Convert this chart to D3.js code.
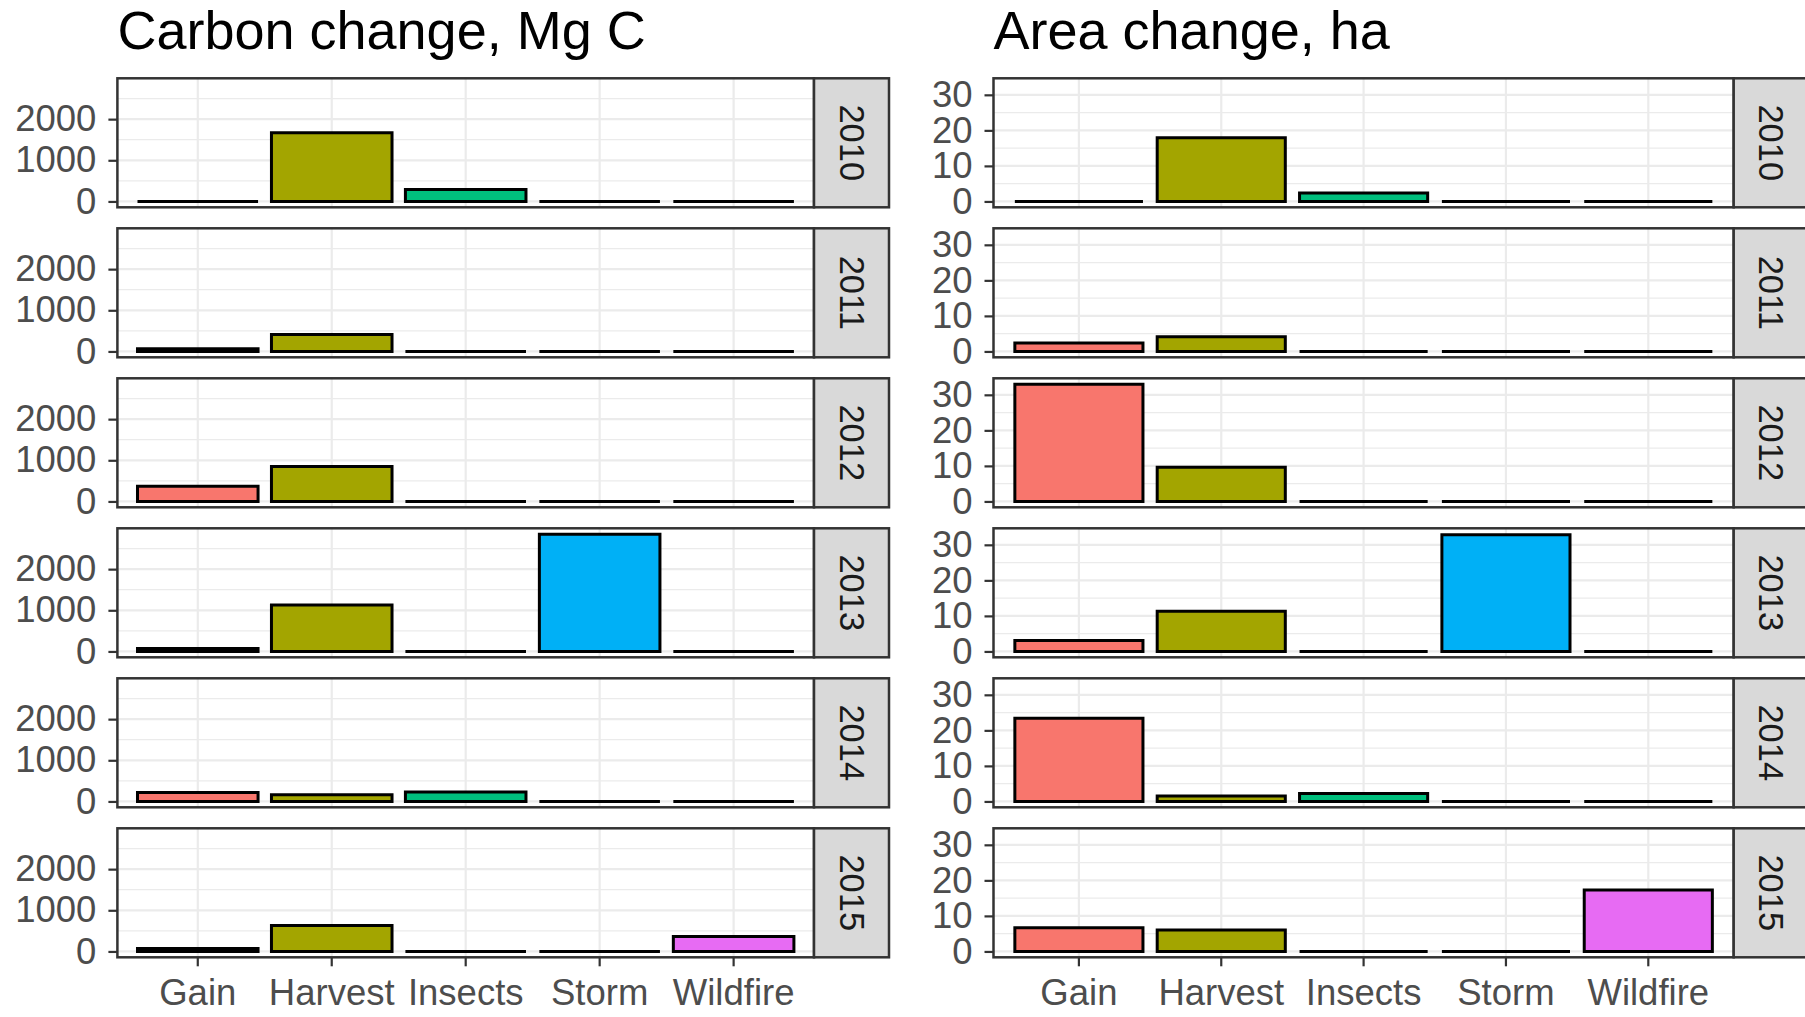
<!DOCTYPE html>
<html>
<head>
<meta charset="utf-8">
<script src="https://cdn.jsdelivr.net/npm/d3@7"></script>
<style>
  html, body { margin: 0; padding: 0; background: #ffffff; }
  svg { display: block; }
  text { font-family: "Liberation Sans", Arial, sans-serif; }
</style>
</head>
<body>
<svg id="chart" width="1805" height="1017"></svg>
<script>
// ---------------- data ----------------
const years = ["2010", "2011", "2012", "2013", "2014", "2015"];
const categories = ["Gain", "Harvest", "Insects", "Storm", "Wildfire"];
const categoryColors = ["#F8766D", "#A3A500", "#00BF7D", "#00B0F6", "#E76BF3"];

// Carbon change, Mg C (one value per year)
const carbonGain     = [0, 65, 370, 70, 215, 70];
const carbonHarvest  = [1670, 410, 850, 1130, 160, 630];
const carbonInsects  = [290, 0, 0, 0, 230, 0];
const carbonStorm    = [0, 0, 0, 2850, 0, 0];
const carbonWildfire = [0, 0, 0, 0, 0, 360];

// Area change, ha (one value per year)
const areaGain     = [0, 2.4, 33.0, 3.1, 23.4, 6.7];
const areaHarvest  = [17.9, 4.1, 9.6, 11.3, 1.5, 6.0];
const areaInsects  = [2.4, 0, 0, 0, 2.2, 0];
const areaStorm    = [0, 0, 0, 32.8, 0, 0];
const areaWildfire = [0, 0, 0, 0, 0, 17.3];

const carbonTicks = [0, 1000, 2000];
const carbonMinor = [500, 1500, 2500];
const areaTicks = [0, 10, 20, 30];
const areaMinor = [5, 15, 25];

const carbonTitle = "Carbon change, Mg C";
const areaTitle = "Area change, ha";

// ---------------- layout ----------------
const svg = d3.select("#chart");
const panelTop0 = 78.3;
const panelStep = 150;
const panelH = 129;
const stripW = 75;
const axisFont = 36.5;

function drawPlot(cfg) {
  const series = cfg.series;
  const maxV = d3.max(series.flat());
  const g = svg.append("g");

  const x = d3.scaleBand()
    .domain(categories)
    .range([cfg.left, cfg.right])
    .paddingInner(0.1)
    .paddingOuter(0.15);

  const color = d3.scaleOrdinal().domain(categories).range(categoryColors);

  // title
  g.append("text")
    .attr("x", cfg.left)
    .attr("y", 49)
    .attr("font-size", 54)
    .attr("fill", "#000")
    .text(cfg.title);

  years.forEach((yr, i) => {
    const top = panelTop0 + i * panelStep;
    const bottom = top + panelH;
    const y = d3.scaleLinear()
      .domain([-0.05 * maxV, 1.05 * maxV])
      .range([bottom, top]);

    const pg = g.append("g");

    pg.append("rect")
      .attr("x", cfg.left).attr("y", top)
      .attr("width", cfg.right - cfg.left).attr("height", panelH)
      .attr("fill", "#fff");

    // minor grid
    pg.selectAll(".minor").data(cfg.minor).enter().append("line")
      .attr("x1", cfg.left).attr("x2", cfg.right)
      .attr("y1", d => y(d)).attr("y2", d => y(d))
      .attr("stroke", "#EBEBEB").attr("stroke-width", 1.2);

    // major grid
    pg.selectAll(".majory").data(cfg.ticks).enter().append("line")
      .attr("x1", cfg.left).attr("x2", cfg.right)
      .attr("y1", d => y(d)).attr("y2", d => y(d))
      .attr("stroke", "#EBEBEB").attr("stroke-width", 2.2);
    pg.selectAll(".majorx").data(categories).enter().append("line")
      .attr("x1", d => x(d) + x.bandwidth() / 2).attr("x2", d => x(d) + x.bandwidth() / 2)
      .attr("y1", top).attr("y2", bottom)
      .attr("stroke", "#EBEBEB").attr("stroke-width", 2.2);

    // bars (paths so that zero-height bars still show their outline)
    const rows = categories.map((c, k) => ({ cat: c, value: series[k][i] }));
    pg.selectAll(".bar").data(rows).enter().append("path")
      .attr("d", d => {
        const x0 = x(d.cat), x1 = x0 + x.bandwidth();
        const y0 = y(0), y1 = y(d.value);
        return `M${x0},${y0}H${x1}V${y1}H${x0}Z`;
      })
      .attr("fill", d => color(d.cat))
      .attr("stroke", "#000")
      .attr("stroke-width", 3)
      .attr("stroke-linejoin", "miter");

    // y axis
    const yAxis = d3.axisLeft(y).tickValues(cfg.ticks).tickSize(9).tickPadding(12)
      .tickFormat(d3.format("d"));
    const ya = pg.append("g").attr("transform", `translate(${cfg.left},0)`).call(yAxis);
    ya.select(".domain").remove();
    ya.selectAll(".tick line").attr("stroke", "#333").attr("stroke-width", 2.2);
    ya.selectAll(".tick text").attr("fill", "#4D4D4D").attr("font-size", axisFont)
      .attr("font-family", "'Liberation Sans', Arial, sans-serif");

    // x axis on last panel
    if (i === years.length - 1) {
      const xAxis = d3.axisBottom(x).tickSize(9).tickPadding(13);
      const xa = pg.append("g").attr("transform", `translate(0,${bottom})`).call(xAxis);
      xa.select(".domain").remove();
      xa.selectAll(".tick line").attr("stroke", "#333").attr("stroke-width", 2.2);
      xa.selectAll(".tick text").attr("fill", "#4D4D4D").attr("font-size", axisFont)
        .attr("font-family", "'Liberation Sans', Arial, sans-serif");
    }

    // panel border
    pg.append("rect")
      .attr("x", cfg.left).attr("y", top)
      .attr("width", cfg.right - cfg.left).attr("height", panelH)
      .attr("fill", "none").attr("stroke", "#333").attr("stroke-width", 2.5);

    // strip
    pg.append("rect")
      .attr("x", cfg.right).attr("y", top)
      .attr("width", stripW).attr("height", panelH)
      .attr("fill", "#D9D9D9").attr("stroke", "#333").attr("stroke-width", 2.5);
    pg.append("text")
      .attr("x", cfg.right + stripW / 2)
      .attr("y", top + panelH / 2)
      .style("writing-mode", "vertical-rl")
      .attr("text-anchor", "middle")
      .attr("font-size", 34.5)
      .attr("fill", "#1A1A1A")
      .text(yr);
  });
}

drawPlot({
  title: carbonTitle,
  left: 117.4, right: 814,
  series: [carbonGain, carbonHarvest, carbonInsects, carbonStorm, carbonWildfire],
  ticks: carbonTicks, minor: carbonMinor
});

drawPlot({
  title: areaTitle,
  left: 993.5, right: 1733.7,
  series: [areaGain, areaHarvest, areaInsects, areaStorm, areaWildfire],
  ticks: areaTicks, minor: areaMinor
});
</script>
</body>
</html>
